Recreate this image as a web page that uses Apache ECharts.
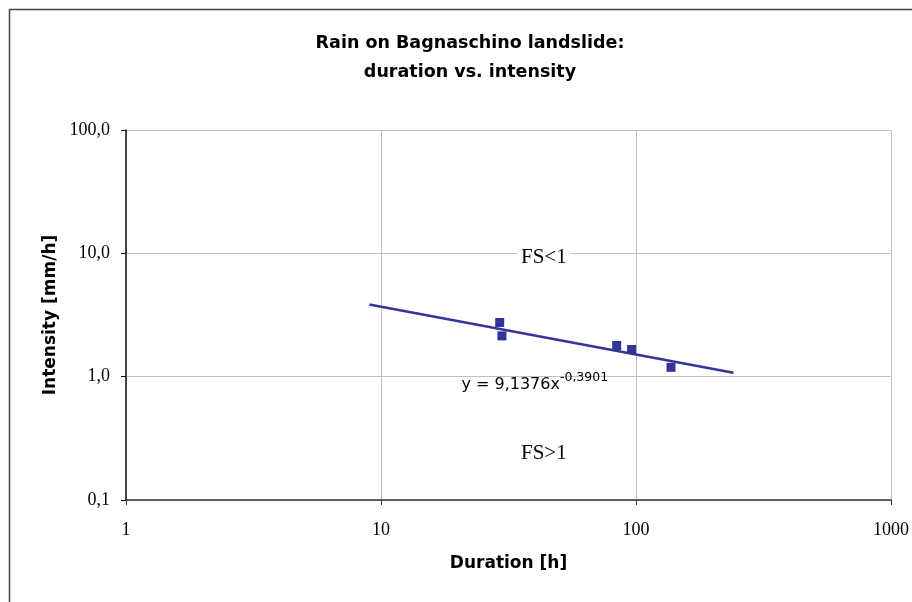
<!DOCTYPE html>
<html>
<head>
<meta charset="utf-8">
<script src="https://cdn.jsdelivr.net/npm/echarts@6/dist/echarts.min.js"></script>
<style>
  html, body { margin: 0; padding: 0; background: #fff; }
  #chart { width: 912px; height: 602px; }
</style>
</head>
<body>
<div id="chart"></div>
<script>
// rain events: duration [h] / intensity [mm/h]
var durations = [29.2, 29.8, 84.0, 96.1, 137.2];
var intensities = [2.75, 2.14, 1.79, 1.66, 1.19];
// power-law trend line end points (straight on log-log)
var trendX = [9.0, 241];
var trendY = [3.85, 1.075];
var xTicks = ['1', '10', '100', '1000'];
var yTicks = ['0,1', '1,0', '10,0', '100,0'];
// text notes in data coordinates
var notes = [
  { name: 'FS<1', value: [43.5, 9.2] },
  { name: 'FS>1', value: [43.5, 0.24] }
];
var equation = { text: '9,1376x', exp: '-0,3901', at: [40.1, 0.9] };

var chart = echarts.init(document.getElementById('chart'));
var navy = '#333399';

chart.setOption({
  animation: false,
  title: {
    text: 'Rain on Bagnaschino landslide:\nduration vs. intensity',
    left: 465,
    textAlign: 'center',
    top: 24,
    textStyle: {
      fontFamily: 'DejaVu Sans',
      fontWeight: 'bold',
      fontSize: 17.5,
      lineHeight: 29,
      color: '#000'
    }
  },
  graphic: [{
    type: 'rect',
    shape: { x: 9.5, y: 9.5, width: 1000, height: 1000 },
    style: { fill: 'none', stroke: '#444', lineWidth: 1.5 },
    silent: true
  }],
  grid: { left: 126, right: 19, top: 130, bottom: 102 },
  xAxis: {
    type: 'log',
    logBase: 10,
    min: 1,
    max: 1000,
    name: 'Duration [h]',
    nameLocation: 'middle',
    nameGap: 55,
    nameTextStyle: { fontFamily: 'DejaVu Sans', fontWeight: 'bold', fontSize: 17, color: '#000' },
    axisLine: { lineStyle: { color: '#333', width: 1.5 } },
    axisTick: { show: true, length: 5, lineStyle: { color: '#333' } },
    axisLabel: {
      margin: 21,
      fontFamily: 'Liberation Serif',
      fontSize: 18,
      color: '#000',
      formatter: function (v) {
        return xTicks[Math.round(Math.log10(v))];
      }
    },
    splitLine: { show: true, lineStyle: { color: '#c0c0c0', width: 1 } }
  },
  yAxis: {
    type: 'log',
    logBase: 10,
    min: 0.1,
    max: 100,
    name: 'Intensity [mm/h]',
    nameLocation: 'middle',
    nameGap: 58,
    nameTextStyle: { fontFamily: 'DejaVu Sans', fontWeight: 'bold', fontSize: 17, color: '#000' },
    axisLine: { show: true, lineStyle: { color: '#111', width: 1.5 } },
    axisTick: { show: true, length: 5, lineStyle: { color: '#111' } },
    axisLabel: {
      margin: 16,
      fontFamily: 'Liberation Serif',
      fontSize: 18,
      color: '#000',
      formatter: function (v) {
        return yTicks[Math.round(Math.log10(v)) + 1];
      }
    },
    splitLine: { show: true, lineStyle: { color: '#c0c0c0', width: 1 } }
  },
  series: [
    {
      name: 'trend',
      type: 'line',
      data: trendX.map(function (x, i) { return [x, trendY[i]]; }),
      symbol: 'none',
      lineStyle: { color: navy, width: 2.5 },
      silent: true,
      z: 3
    },
    {
      name: 'events',
      type: 'scatter',
      data: durations.map(function (d, i) { return [d, intensities[i]]; }),
      symbol: 'rect',
      symbolSize: 9,
      itemStyle: { color: navy, opacity: 1 },
      z: 4
    },
    {
      name: 'notes',
      type: 'scatter',
      symbolSize: 0,
      silent: true,
      z: 5,
      itemStyle: { opacity: 1 },
      label: {
        show: true,
        position: 'inside',
        formatter: '{b}',
        fontFamily: 'Liberation Serif',
        fontSize: 21,
        color: '#000',
        backgroundColor: '#fff',
        padding: [1, 4]
      },
      data: notes.concat([{
        name: 'eq',
        value: equation.at,
        label: {
          formatter: '{a|y = ' + equation.text + '}{b|' + equation.exp + '}',
          backgroundColor: 'transparent',
          rich: {
            a: { fontFamily: 'DejaVu Sans', fontSize: 16, color: '#000', lineHeight: 22, verticalAlign: 'bottom' },
            b: { fontFamily: 'DejaVu Sans', fontSize: 12.5, color: '#000', lineHeight: 22, verticalAlign: 'top' }
          }
        }
      }])
    }
  ]
});
</script>
</body>
</html>
